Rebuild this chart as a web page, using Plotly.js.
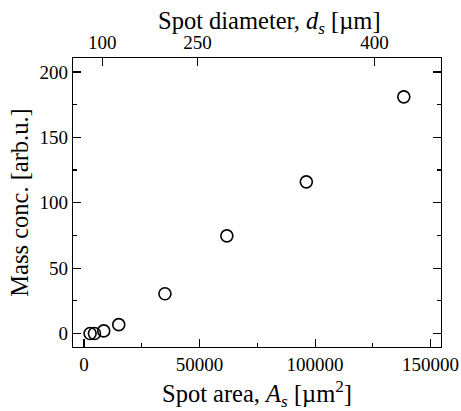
<!DOCTYPE html>
<html>
<head>
<meta charset="utf-8">
<script src="https://cdn.plot.ly/plotly-3.0.1.min.js"></script>
<style>html,body{margin:0;padding:0;background:#fff;}#chart{width:461px;height:411px;}</style>
</head>
<body>
<div id="chart"></div>
<script>
// Data
const spotArea = [2600, 4500, 8500, 15000, 35000, 61800, 96200, 138400]; // µm^2
const massConc = [0, 0, 2, 6.8, 30.4, 74.7, 116, 181];                   // arb.u.
const diameterTicks = [100, 250, 400];                                   // µm (top axis)
const diameterTickText = ['100', '250', '400'];

const diameterTickVals = diameterTicks.map(d => Math.PI * d * d / 4);
const xRange = [-4800, 154500];
const font = {family: 'Liberation Serif, Times New Roman, serif', color: '#000'};

const trace = {
  x: spotArea, y: massConc, type: 'scatter', mode: 'markers',
  marker: {symbol: 'circle-open', size: 12, color: '#000', line: {width: 1.6, color: '#000'}},
  hoverinfo: 'none', showlegend: false
};
// same points on the top axis (invisible) so that the top axis is drawn
const traceTop = {
  x: spotArea, y: massConc, type: 'scatter', mode: 'markers', xaxis: 'x2', yaxis: 'y',
  marker: {size: 1, opacity: 0}, hoverinfo: 'none', showlegend: false
};

const layout = {
  width: 461, height: 411,
  margin: {l: 73, r: 20, t: 58, b: 64, pad: 0},
  paper_bgcolor: '#fff', plot_bgcolor: '#fff',
  font: Object.assign({size: 18}, font),
  xaxis: {
    range: xRange, showgrid: false, zeroline: false,
    showline: true, linecolor: '#000', linewidth: 1.2, mirror: false,
    ticks: 'inside', ticklen: 8, tickwidth: 1.2, tickcolor: '#000',
    tickvals: [0, 50000, 100000, 150000], ticktext: ['0', '50000', '100000', '150000'],
    minor: {tickvals: [25000, 75000, 125000], ticks: 'inside', ticklen: 4, tickwidth: 1.2, tickcolor: '#000'},
    tickfont: Object.assign({size: 19}, font),
    title: {text: 'Spot area, <i>A<sub>s</sub></i> [µm<sup>2</sup>]', font: Object.assign({size: 24.5}, font), standoff: 13}
  },
  xaxis2: {
    overlaying: 'x', side: 'top', anchor: 'y', range: xRange,
    showgrid: false, zeroline: false, showline: true, linecolor: '#000', linewidth: 1.2,
    ticks: 'inside', ticklen: 8, tickwidth: 1.2, tickcolor: '#000',
    tickvals: diameterTickVals, ticktext: diameterTickText,
    tickfont: Object.assign({size: 19}, font)
  },
  yaxis: {
    range: [-10.3, 210.7], showgrid: false, zeroline: false,
    showline: true, linecolor: '#000', linewidth: 1.2, mirror: 'ticks',
    ticks: 'inside', ticklen: 8, tickwidth: 1.2, tickcolor: '#000',
    tickvals: [0, 50, 100, 150, 200],
    minor: {tickvals: [25, 75, 125, 175], ticks: 'inside', ticklen: 4, tickwidth: 1.2, tickcolor: '#000'},
    tickfont: Object.assign({size: 19}, font),
    title: {text: 'Mass conc. [arb.u.]', font: Object.assign({size: 24.5}, font), standoff: 4}
  },
  annotations: [{
    text: 'Spot diameter, <i>d<sub>s</sub></i> [µm]',
    xref: 'paper', yref: 'paper', x: 0.535, y: 1, xanchor: 'center', yanchor: 'middle',
    yshift: 36, showarrow: false, font: Object.assign({size: 24.5}, font)
  }]
};

Plotly.newPlot('chart', [trace, traceTop], layout, {staticPlot: true, displayModeBar: false});
</script>
</body>
</html>
